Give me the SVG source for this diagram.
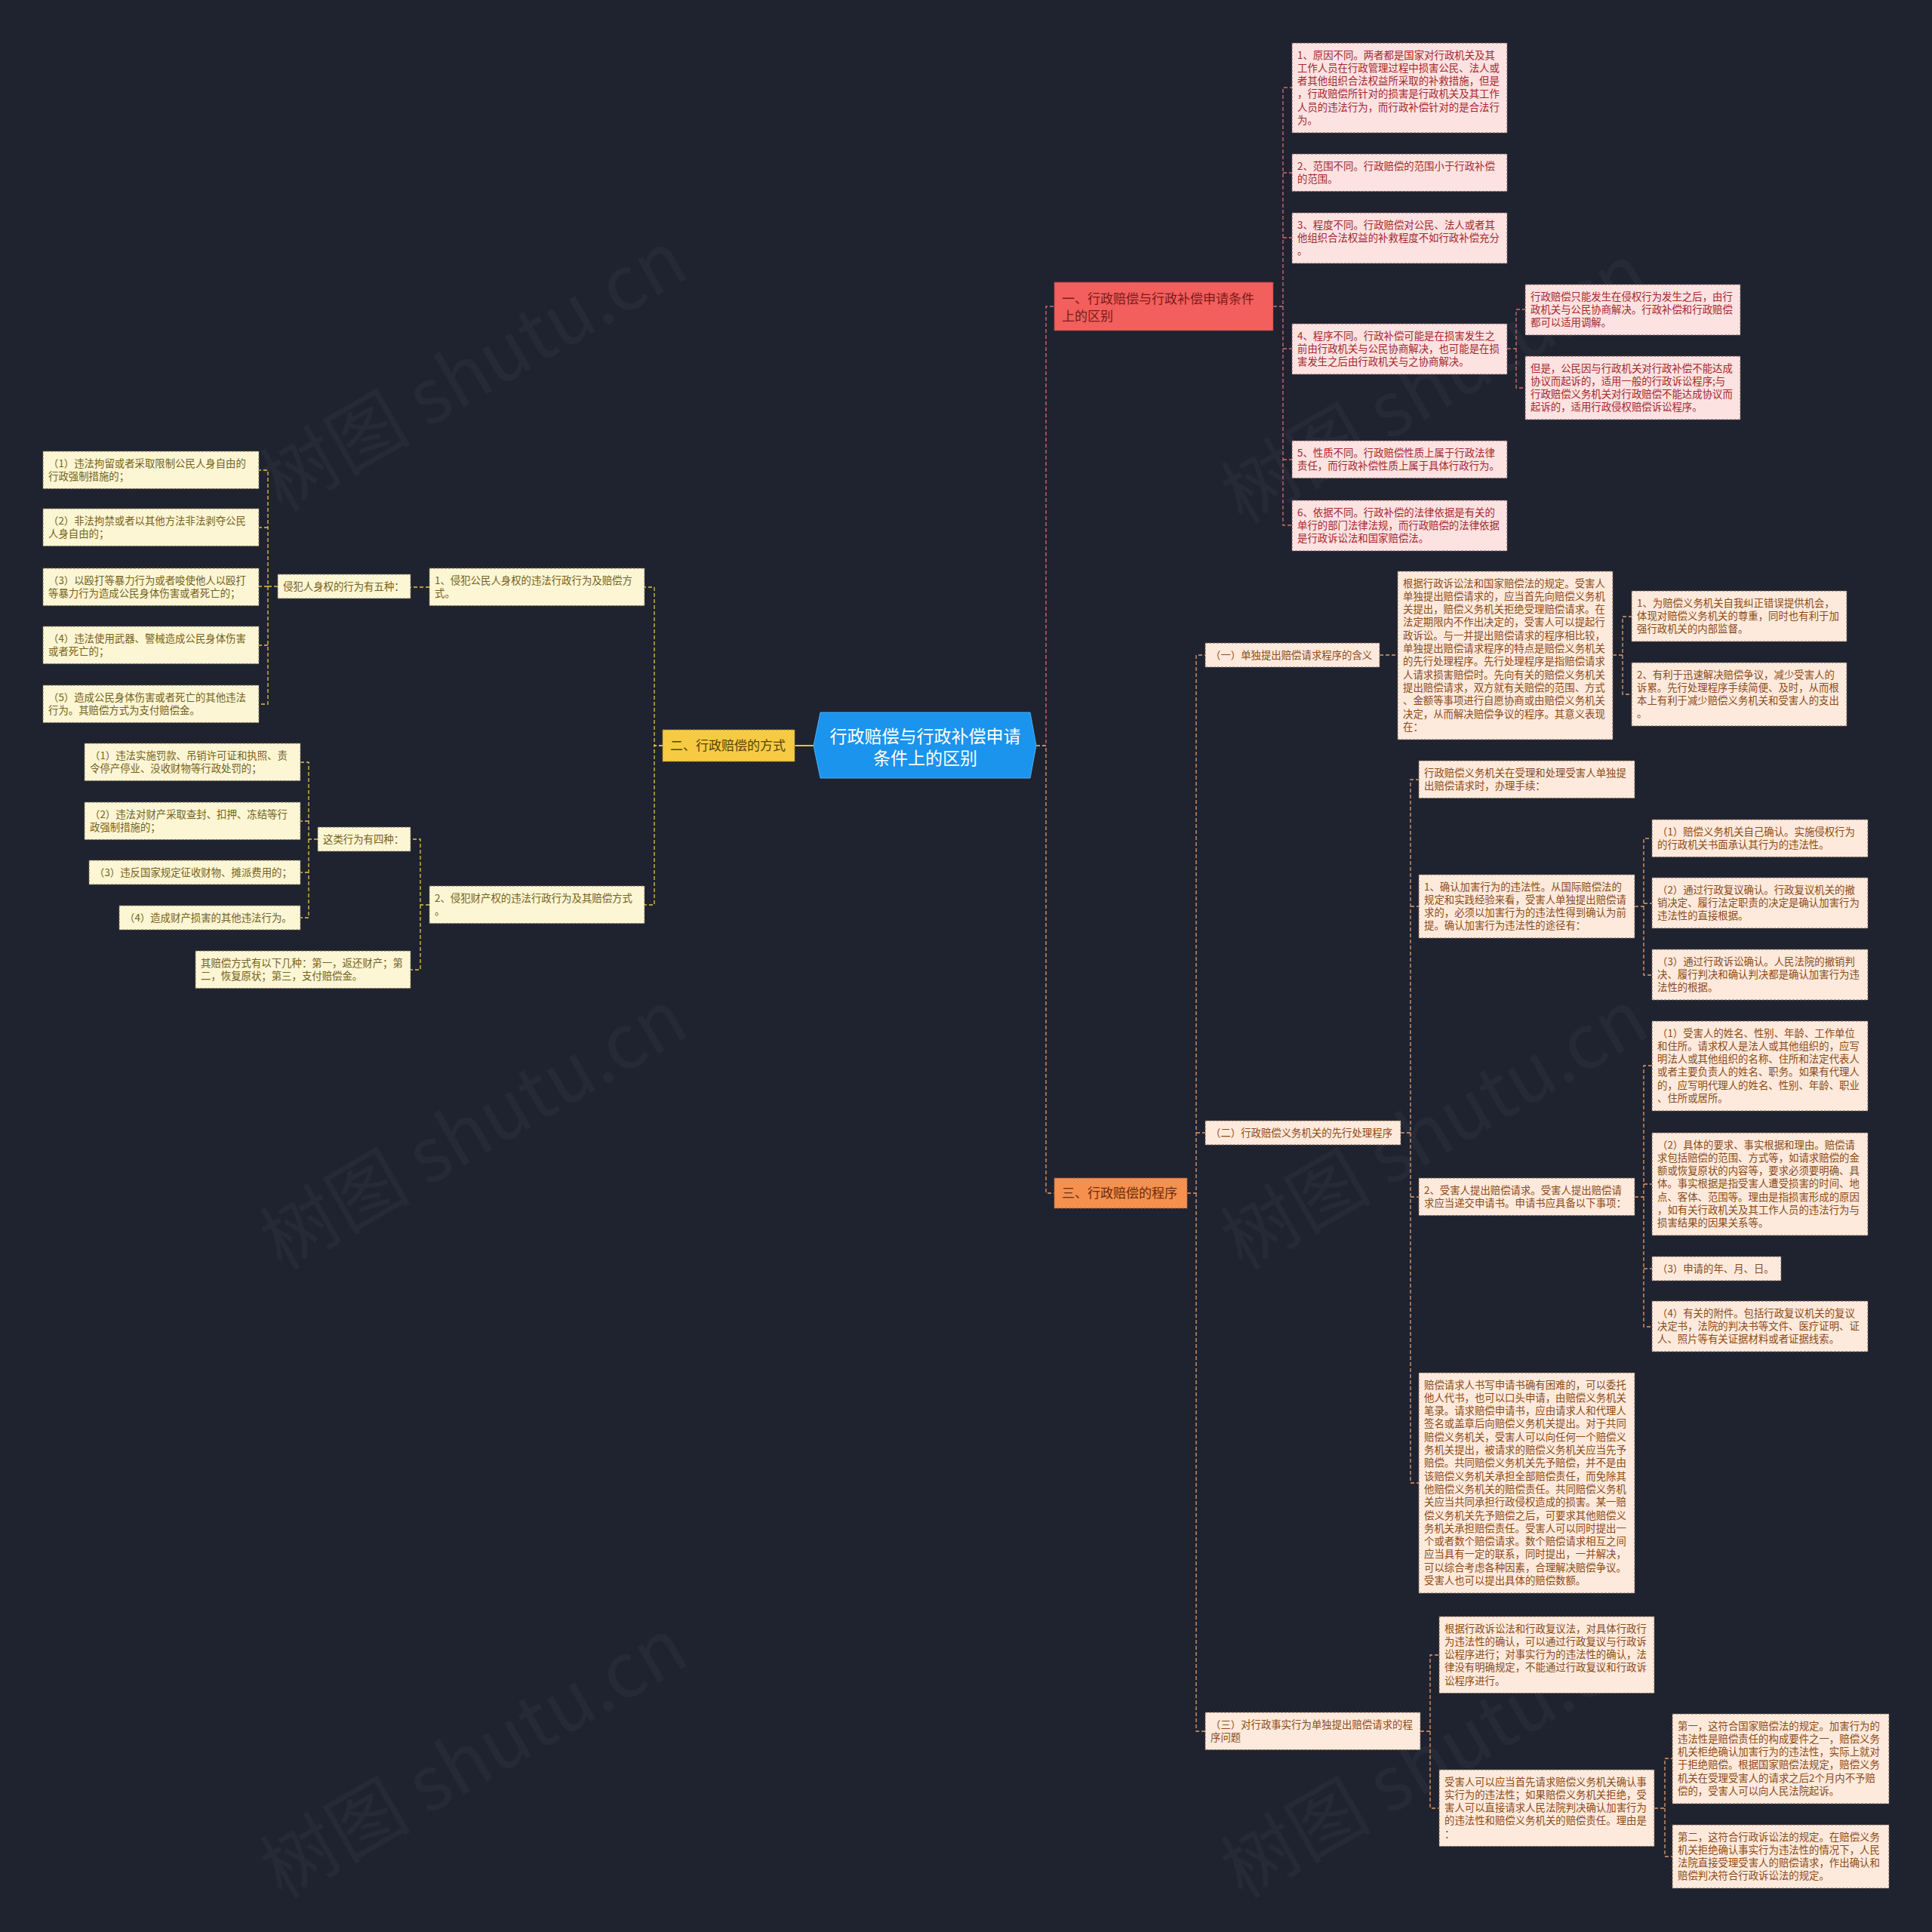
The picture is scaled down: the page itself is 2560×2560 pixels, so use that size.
<svg xmlns="http://www.w3.org/2000/svg" width="2560" height="2560" viewBox="0 0 2560 2560">
<style>
text{font-family:"Noto Sans CJK SC","Noto Sans",sans-serif;}
.t{font-size:13.4px;}
.p rect{fill:#fde2e2;stroke:#7a5656;stroke-width:1;stroke-dasharray:3 2;}
.p text{fill:#a3292c;}
.o rect{fill:#feeadc;stroke:#7a6050;stroke-width:1;stroke-dasharray:3 2;}
.o text{fill:#8c4a18;}
.y rect{fill:#fdf6d4;stroke:#7a7050;stroke-width:1;stroke-dasharray:3 2;}
.y text{fill:#74621c;}
.l1 text{font-size:17px;}
.c{fill:none;stroke-width:1.3;stroke-dasharray:5 3;}
.cp{stroke:#d86c6c;}
.co{stroke:#e39a68;}
.cy{stroke:#e5c248;}
.wm{font-family:"Noto Sans CJK SC","Noto Sans",sans-serif;font-size:100px;fill:#ffffff;fill-opacity:0.035;}
</style>
<rect x="0" y="0" width="2560" height="2560" fill="#1f2330"/>
<g id="watermarks">
<text class="wm" x="645" y="522" text-anchor="middle" transform="rotate(-30 645 522)">树图 shutu.cn</text>
<text class="wm" x="1918" y="539" text-anchor="middle" transform="rotate(-30 1918 539)">树图 shutu.cn</text>
<text class="wm" x="645" y="1527" text-anchor="middle" transform="rotate(-30 645 1527)">树图 shutu.cn</text>
<text class="wm" x="1918" y="1527" text-anchor="middle" transform="rotate(-30 1918 1527)">树图 shutu.cn</text>
<text class="wm" x="645" y="2360" text-anchor="middle" transform="rotate(-30 645 2360)">树图 shutu.cn</text>
<text class="wm" x="1918" y="2360" text-anchor="middle" transform="rotate(-30 1918 2360)">树图 shutu.cn</text>
</g>
<g id="connectors">
<path class="c cy" style="stroke-dasharray:none;stroke-width:2" d="M1078,988 H1053"/>
<path class="c cp" d="M1373,988 H1386 V406 H1397"/>
<path class="c co" d="M1373,988 H1386 V1581 H1397"/>
<path class="c cy" d="M878,988 H867 V778 H854"/>
<path class="c cy" d="M878,988 H867 V1199 H854"/>
<path class="c cy" d="M569,778 H544"/>
<path class="c cy" d="M368,777 H355 V623 H343 M355,699 H343 M355,777 H343 M355,855 H343 M355,777 V933 H343"/>
<path class="c cy" d="M569,1199 H557 V1112 H544 M557,1199 V1285 H544"/>
<path class="c cy" d="M421,1112 H409 V1010 H398 M409,1088 H398 M409,1112 V1216 H398 M409,1156 H398"/>
<path class="c cp" d="M1687,406 H1700 V116 H1712 M1700,229 H1712 M1700,315 H1712 M1700,462 H1712 M1700,406 V696 H1712 M1700,609 H1712"/>
<path class="c cp" d="M1997,462 H2009 V410 H2021 M2009,462 V514 H2021"/>
<path class="c co" d="M1573,1581 H1585 V868 H1597 M1585,1501 H1597 M1585,1581 V2294 H1597"/>
<path class="c co" d="M1828,868 H1852"/>
<path class="c co" d="M2137,868 H2150 V817 H2162 M2150,868 V920 H2162"/>
<path class="c co" d="M1856,1501 H1869 V1033 H1880 M1869,1201 H1880 M1869,1501 V1965 H1880 M1869,1586 H1880"/>
<path class="c co" d="M2166,1201 H2178 V1111 H2189 M2178,1197 H2189 M2178,1201 V1292 H2189"/>
<path class="c co" d="M2166,1586 H2178 V1412 H2189 M2178,1569 H2189 M2178,1586 V1758 H2189 M2178,1681 H2189"/>
<path class="c co" d="M1882,2294 H1895 V2193 H1907 M1895,2294 V2396 H1907"/>
<path class="c co" d="M2192,2396 H2206 V2330 H2216 M2206,2396 V2460 H2216"/>
</g>
<g id="center">
<polygon points="1078,988 1087,944 1365,944 1373,988 1365,1031 1087,1031" fill="#1a94ec" stroke="#4fb0f5" stroke-width="1"/>
<text x="1226" y="984" text-anchor="middle" font-size="23" fill="#ffffff">行政赔偿与行政补偿申请</text>
<text x="1226" y="1013" text-anchor="middle" font-size="23" fill="#ffffff">条件上的区别</text>
</g>
<g id="n1" class="l1">
<rect x="1397" y="374" width="290" height="64" fill="#f25f5c" stroke="#a83c3c" stroke-dasharray="3 2"/>
<text x="1407" y="402" fill="#7d1a1a"><tspan x="1407">一、行政赔偿与行政补偿申请条件</tspan><tspan x="1407" dy="22.5">上的区别</tspan></text>
</g>
<g id="n2" class="l1">
<rect x="878" y="967" width="175" height="42" fill="#f6cb43" stroke="#9a7a20" stroke-dasharray="3 2"/>
<text x="888" y="994" fill="#5a4306">二、行政赔偿的方式</text>
</g>
<g id="n3" class="l1">
<rect x="1397" y="1561" width="176" height="40" fill="#f5904f" stroke="#a85a28" stroke-dasharray="3 2"/>
<text x="1407" y="1587" fill="#6e2c08">三、行政赔偿的程序</text>
</g>
<g id="p1" class="p t"><rect x="1712" y="57" width="285" height="119"/><text y="77.5"><tspan x="1719">1、原因不同。两者都是国家对行政机关及其</tspan><tspan x="1719" dy="17.3">工作人员在行政管理过程中损害公民、法人或</tspan><tspan x="1719" dy="17.3">者其他组织合法权益所采取的补救措施，但是</tspan><tspan x="1719" dy="17.3">，行政赔偿所针对的损害是行政机关及其工作</tspan><tspan x="1719" dy="17.3">人员的违法行为，而行政补偿针对的是合法行</tspan><tspan x="1719" dy="17.3">为。</tspan></text></g>
<g id="p2" class="p t"><rect x="1712" y="204" width="285" height="49.6"/><text y="224.5"><tspan x="1719">2、范围不同。行政赔偿的范围小于行政补偿</tspan><tspan x="1719" dy="17.3">的范围。</tspan></text></g>
<g id="p3" class="p t"><rect x="1712" y="282" width="285" height="67"/><text y="302.5"><tspan x="1719">3、程度不同。行政赔偿对公民、法人或者其</tspan><tspan x="1719" dy="17.3">他组织合法权益的补救程度不如行政补偿充分</tspan><tspan x="1719" dy="17.3">。</tspan></text></g>
<g id="p4" class="p t"><rect x="1712" y="429" width="285" height="67"/><text y="449.5"><tspan x="1719">4、程序不同。行政补偿可能是在损害发生之</tspan><tspan x="1719" dy="17.3">前由行政机关与公民协商解决，也可能是在损</tspan><tspan x="1719" dy="17.3">害发生之后由行政机关与之协商解决。</tspan></text></g>
<g id="p4a" class="p t"><rect x="2021" y="377" width="285" height="67"/><text y="397.5"><tspan x="2028">行政赔偿只能发生在侵权行为发生之后，由行</tspan><tspan x="2028" dy="17.3">政机关与公民协商解决。行政补偿和行政赔偿</tspan><tspan x="2028" dy="17.3">都可以适用调解。</tspan></text></g>
<g id="p4b" class="p t"><rect x="2021" y="472" width="285" height="84"/><text y="492.5"><tspan x="2028">但是，公民因与行政机关对行政补偿不能达成</tspan><tspan x="2028" dy="17.3">协议而起诉的，适用一般的行政诉讼程序;与</tspan><tspan x="2028" dy="17.3">行政赔偿义务机关对行政赔偿不能达成协议而</tspan><tspan x="2028" dy="17.3">起诉的，适用行政侵权赔偿诉讼程序。</tspan></text></g>
<g id="p5" class="p t"><rect x="1712" y="584" width="285" height="49.6"/><text y="604.5"><tspan x="1719">5、性质不同。行政赔偿性质上属于行政法律</tspan><tspan x="1719" dy="17.3">责任，而行政补偿性质上属于具体行政行为。</tspan></text></g>
<g id="p6" class="p t"><rect x="1712" y="663" width="285" height="67"/><text y="683.5"><tspan x="1719">6、依据不同。行政补偿的法律依据是有关的</tspan><tspan x="1719" dy="17.3">单行的部门法律法规，而行政赔偿的法律依据</tspan><tspan x="1719" dy="17.3">是行政诉讼法和国家赔偿法。</tspan></text></g>
<g id="s1" class="o t"><rect x="1597" y="852" width="231" height="32"/><text x="1604" y="872.5">（一）单独提出赔偿请求程序的含义</text></g>
<g id="s1e" class="o t"><rect x="1852" y="757" width="285" height="223"/><text y="777.5"><tspan x="1859">根据行政诉讼法和国家赔偿法的规定。受害人</tspan><tspan x="1859" dy="17.3">单独提出赔偿请求的，应当首先向赔偿义务机</tspan><tspan x="1859" dy="17.3">关提出，赔偿义务机关拒绝受理赔偿请求。在</tspan><tspan x="1859" dy="17.3">法定期限内不作出决定的，受害人可以提起行</tspan><tspan x="1859" dy="17.3">政诉讼。与一并提出赔偿请求的程序相比较，</tspan><tspan x="1859" dy="17.3">单独提出赔偿请求程序的特点是赔偿义务机关</tspan><tspan x="1859" dy="17.3">的先行处理程序。先行处理程序是指赔偿请求</tspan><tspan x="1859" dy="17.3">人请求损害赔偿时。先向有关的赔偿义务机关</tspan><tspan x="1859" dy="17.3">提出赔偿请求，双方就有关赔偿的范围、方式</tspan><tspan x="1859" dy="17.3">、金额等事项进行自愿协商或由赔偿义务机关</tspan><tspan x="1859" dy="17.3">决定，从而解决赔偿争议的程序。其意义表现</tspan><tspan x="1859" dy="17.3">在：</tspan></text></g>
<g id="s1a" class="o t"><rect x="2162" y="783" width="285" height="67"/><text y="803.5"><tspan x="2169">1、为赔偿义务机关自我纠正错误提供机会，</tspan><tspan x="2169" dy="17.3">体现对赔偿义务机关的尊重，同时也有利于加</tspan><tspan x="2169" dy="17.3">强行政机关的内部监督。</tspan></text></g>
<g id="s1b" class="o t"><rect x="2162" y="878" width="285" height="84"/><text y="898.5"><tspan x="2169">2、有利于迅速解决赔偿争议，减少受害人的</tspan><tspan x="2169" dy="17.3">诉累。先行处理程序手续简便、及时，从而根</tspan><tspan x="2169" dy="17.3">本上有利于减少赔偿义务机关和受害人的支出</tspan><tspan x="2169" dy="17.3">。</tspan></text></g>
<g id="s2" class="o t"><rect x="1597" y="1485" width="259" height="32"/><text x="1604" y="1505.5">（二）行政赔偿义务机关的先行处理程序</text></g>
<g id="s2a" class="o t"><rect x="1880" y="1008" width="286" height="49.6"/><text y="1028.5"><tspan x="1887">行政赔偿义务机关在受理和处理受害人单独提</tspan><tspan x="1887" dy="17.3">出赔偿请求时，办理手续：</tspan></text></g>
<g id="s2b" class="o t"><rect x="1880" y="1159" width="286" height="84"/><text y="1179.5"><tspan x="1887">1、确认加害行为的违法性。从国际赔偿法的</tspan><tspan x="1887" dy="17.3">规定和实践经验来看，受害人单独提出赔偿请</tspan><tspan x="1887" dy="17.3">求的，必须以加害行为的违法性得到确认为前</tspan><tspan x="1887" dy="17.3">提。确认加害行为违法性的途径有：</tspan></text></g>
<g id="s2b1" class="o t"><rect x="2189" y="1086" width="286" height="49.6"/><text y="1106.5"><tspan x="2196">（1）赔偿义务机关自己确认。实施侵权行为</tspan><tspan x="2196" dy="17.3">的行政机关书面承认其行为的违法性。</tspan></text></g>
<g id="s2b2" class="o t"><rect x="2189" y="1163" width="286" height="67"/><text y="1183.5"><tspan x="2196">（2）通过行政复议确认。行政复议机关的撤</tspan><tspan x="2196" dy="17.3">销决定、履行法定职责的决定是确认加害行为</tspan><tspan x="2196" dy="17.3">违法性的直接根据。</tspan></text></g>
<g id="s2b3" class="o t"><rect x="2189" y="1258" width="286" height="67"/><text y="1278.5"><tspan x="2196">（3）通过行政诉讼确认。人民法院的撤销判</tspan><tspan x="2196" dy="17.3">决、履行判决和确认判决都是确认加害行为违</tspan><tspan x="2196" dy="17.3">法性的根据。</tspan></text></g>
<g id="s2c" class="o t"><rect x="1880" y="1561" width="286" height="49.6"/><text y="1581.5"><tspan x="1887">2、受害人提出赔偿请求。受害人提出赔偿请</tspan><tspan x="1887" dy="17.3">求应当递交申请书。申请书应具备以下事项：</tspan></text></g>
<g id="s2c1" class="o t"><rect x="2189" y="1353" width="286" height="119"/><text y="1373.5"><tspan x="2196">（1）受害人的姓名、性别、年龄、工作单位</tspan><tspan x="2196" dy="17.3">和住所。请求权人是法人或其他组织的，应写</tspan><tspan x="2196" dy="17.3">明法人或其他组织的名称、住所和法定代表人</tspan><tspan x="2196" dy="17.3">或者主要负责人的姓名、职务。如果有代理人</tspan><tspan x="2196" dy="17.3">的，应写明代理人的姓名、性别、年龄、职业</tspan><tspan x="2196" dy="17.3">、住所或居所。</tspan></text></g>
<g id="s2c2" class="o t"><rect x="2189" y="1501" width="286" height="136"/><text y="1521.5"><tspan x="2196">（2）具体的要求、事实根据和理由。赔偿请</tspan><tspan x="2196" dy="17.3">求包括赔偿的范围、方式等，如请求赔偿的金</tspan><tspan x="2196" dy="17.3">额或恢复原状的内容等，要求必须要明确、具</tspan><tspan x="2196" dy="17.3">体。事实根据是指受害人遭受损害的时间、地</tspan><tspan x="2196" dy="17.3">点、客体、范围等。理由是指损害形成的原因</tspan><tspan x="2196" dy="17.3">，如有关行政机关及其工作人员的违法行为与</tspan><tspan x="2196" dy="17.3">损害结果的因果关系等。</tspan></text></g>
<g id="s2c3" class="o t"><rect x="2189" y="1665" width="171" height="32"/><text x="2196" y="1685.5">（3）申请的年、月、日。</text></g>
<g id="s2c4" class="o t"><rect x="2189" y="1724" width="286" height="67"/><text y="1744.5"><tspan x="2196">（4）有关的附件。包括行政复议机关的复议</tspan><tspan x="2196" dy="17.3">决定书，法院的判决书等文件、医疗证明、证</tspan><tspan x="2196" dy="17.3">人、照片等有关证据材料或者证据线索。</tspan></text></g>
<g id="s2d" class="o t"><rect x="1880" y="1819" width="286" height="292"/><text y="1839.5"><tspan x="1887">赔偿请求人书写申请书确有困难的，可以委托</tspan><tspan x="1887" dy="17.3">他人代书，也可以口头申请，由赔偿义务机关</tspan><tspan x="1887" dy="17.3">笔录。请求赔偿申请书，应由请求人和代理人</tspan><tspan x="1887" dy="17.3">签名或盖章后向赔偿义务机关提出。对于共同</tspan><tspan x="1887" dy="17.3">赔偿义务机关，受害人可以向任何一个赔偿义</tspan><tspan x="1887" dy="17.3">务机关提出，被请求的赔偿义务机关应当先予</tspan><tspan x="1887" dy="17.3">赔偿。共同赔偿义务机关先予赔偿，并不是由</tspan><tspan x="1887" dy="17.3">该赔偿义务机关承担全部赔偿责任，而免除其</tspan><tspan x="1887" dy="17.3">他赔偿义务机关的赔偿责任。共同赔偿义务机</tspan><tspan x="1887" dy="17.3">关应当共同承担行政侵权造成的损害。某一赔</tspan><tspan x="1887" dy="17.3">偿义务机关先予赔偿之后，可要求其他赔偿义</tspan><tspan x="1887" dy="17.3">务机关承担赔偿责任。受害人可以同时提出一</tspan><tspan x="1887" dy="17.3">个或者数个赔偿请求。数个赔偿请求相互之间</tspan><tspan x="1887" dy="17.3">应当具有一定的联系，同时提出，一并解决，</tspan><tspan x="1887" dy="17.3">可以综合考虑各种因素，合理解决赔偿争议。</tspan><tspan x="1887" dy="17.3">受害人也可以提出具体的赔偿数额。</tspan></text></g>
<g id="s3" class="o t"><rect x="1597" y="2269" width="285" height="49.6"/><text y="2289.5"><tspan x="1604">（三）对行政事实行为单独提出赔偿请求的程</tspan><tspan x="1604" dy="17.3">序问题</tspan></text></g>
<g id="s3a" class="o t"><rect x="1907" y="2142" width="285" height="101.5"/><text y="2162.5"><tspan x="1914">根据行政诉讼法和行政复议法，对具体行政行</tspan><tspan x="1914" dy="17.3">为违法性的确认，可以通过行政复议与行政诉</tspan><tspan x="1914" dy="17.3">讼程序进行；对事实行为的违法性的确认，法</tspan><tspan x="1914" dy="17.3">律没有明确规定，不能通过行政复议和行政诉</tspan><tspan x="1914" dy="17.3">讼程序进行。</tspan></text></g>
<g id="s3b" class="o t"><rect x="1907" y="2345" width="285" height="101.5"/><text y="2365.5"><tspan x="1914">受害人可以应当首先请求赔偿义务机关确认事</tspan><tspan x="1914" dy="17.3">实行为的违法性；如果赔偿义务机关拒绝，受</tspan><tspan x="1914" dy="17.3">害人可以直接请求人民法院判决确认加害行为</tspan><tspan x="1914" dy="17.3">的违法性和赔偿义务机关的赔偿责任。理由是</tspan><tspan x="1914" dy="17.3">：</tspan></text></g>
<g id="s3b1" class="o t"><rect x="2216" y="2271" width="287" height="119"/><text y="2291.5"><tspan x="2223">第一，这符合国家赔偿法的规定。加害行为的</tspan><tspan x="2223" dy="17.3">违法性是赔偿责任的构成要件之一，赔偿义务</tspan><tspan x="2223" dy="17.3">机关柜绝确认加害行为的违法性，实际上就对</tspan><tspan x="2223" dy="17.3">于拒绝赔偿。根据国家赔偿法规定，赔偿义务</tspan><tspan x="2223" dy="17.3">机关在受理受害人的请求之后2个月内不予赔</tspan><tspan x="2223" dy="17.3">偿的，受害人可以向人民法院起诉。</tspan></text></g>
<g id="s3b2" class="o t"><rect x="2216" y="2418" width="287" height="84"/><text y="2438.5"><tspan x="2223">第二，这符合行政诉讼法的规定。在赔偿义务</tspan><tspan x="2223" dy="17.3">机关拒绝确认事实行为违法性的情况下，人民</tspan><tspan x="2223" dy="17.3">法院直接受理受害人的赔偿请求，作出确认和</tspan><tspan x="2223" dy="17.3">赔偿判决符合行政诉讼法的规定。</tspan></text></g>
<g id="y1" class="y t"><rect x="569" y="753" width="285" height="49.6"/><text y="773.5"><tspan x="576">1、侵犯公民人身权的违法行政行为及赔偿方</tspan><tspan x="576" dy="17.3">式。</tspan></text></g>
<g id="y1h" class="y t"><rect x="368" y="761" width="176" height="32"/><text x="375" y="781.5">侵犯人身权的行为有五种：</text></g>
<g id="y1a" class="y t"><rect x="57" y="598" width="286" height="49.6"/><text y="618.5"><tspan x="64">（1）违法拘留或者采取限制公民人身自由的</tspan><tspan x="64" dy="17.3">行政强制措施的；</tspan></text></g>
<g id="y1b" class="y t"><rect x="57" y="674" width="286" height="49.6"/><text y="694.5"><tspan x="64">（2）非法拘禁或者以其他方法非法剥夺公民</tspan><tspan x="64" dy="17.3">人身自由的；</tspan></text></g>
<g id="y1c" class="y t"><rect x="57" y="753" width="286" height="49.6"/><text y="773.5"><tspan x="64">（3）以殴打等暴力行为或者唆使他人以殴打</tspan><tspan x="64" dy="17.3">等暴力行为造成公民身体伤害或者死亡的；</tspan></text></g>
<g id="y1d" class="y t"><rect x="57" y="830" width="286" height="49.6"/><text y="850.5"><tspan x="64">（4）违法使用武器、警械造成公民身体伤害</tspan><tspan x="64" dy="17.3">或者死亡的；</tspan></text></g>
<g id="y1e" class="y t"><rect x="57" y="908" width="286" height="49.6"/><text y="928.5"><tspan x="64">（5）造成公民身体伤害或者死亡的其他违法</tspan><tspan x="64" dy="17.3">行为。其赔偿方式为支付赔偿金。</tspan></text></g>
<g id="y2" class="y t"><rect x="569" y="1174" width="285" height="49.6"/><text y="1194.5"><tspan x="576">2、侵犯财产权的违法行政行为及其赔偿方式</tspan><tspan x="576" dy="17.3">。</tspan></text></g>
<g id="y2h" class="y t"><rect x="421" y="1096" width="123" height="32"/><text x="428" y="1116.5">这类行为有四种：</text></g>
<g id="y2a" class="y t"><rect x="112" y="985" width="286" height="49.6"/><text y="1005.5"><tspan x="119">（1）违法实施罚款、吊销许可证和执照、责</tspan><tspan x="119" dy="17.3">令停产停业、没收财物等行政处罚的；</tspan></text></g>
<g id="y2b" class="y t"><rect x="112" y="1063" width="286" height="49.6"/><text y="1083.5"><tspan x="119">（2）违法对财产采取查封、扣押、冻结等行</tspan><tspan x="119" dy="17.3">政强制措施的；</tspan></text></g>
<g id="y2c" class="y t"><rect x="118" y="1140" width="280" height="32"/><text x="125" y="1160.5">（3）违反国家规定征收财物、摊派费用的；</text></g>
<g id="y2d" class="y t"><rect x="158" y="1200" width="240" height="32"/><text x="165" y="1220.5">（4）造成财产损害的其他违法行为。</text></g>
<g id="y2e" class="y t"><rect x="259" y="1260" width="285" height="49.6"/><text y="1280.5"><tspan x="266">其赔偿方式有以下几种：第一，返还财产；第</tspan><tspan x="266" dy="17.3">二，恢复原状；第三，支付赔偿金。</tspan></text></g>
</svg>
